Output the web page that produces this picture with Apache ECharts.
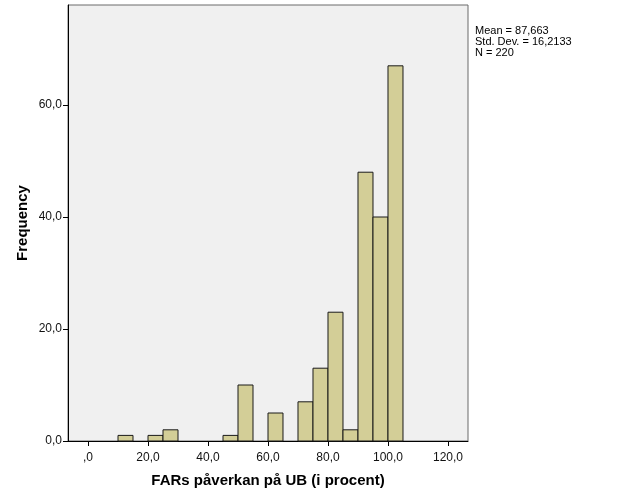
<!DOCTYPE html>
<html><head><meta charset="utf-8">
<script src="https://cdn.jsdelivr.net/npm/echarts@6/dist/echarts.min.js"></script>
<style>html,body{margin:0;padding:0;background:#fff}#c{width:626px;height:501px}</style>
</head><body><div id="c"></div>
<script>
const binStarts = [10, 20, 25, 45, 50, 60, 70, 75, 80, 85, 90, 95, 100];
const binWidth = 5;
const counts = [1, 1, 2, 1, 10, 5, 7, 13, 23, 2, 48, 40, 67];
const xTickValues = [0, 20, 40, 60, 80, 100, 120];
const xTickLabels = [',0', '20,0', '40,0', '60,0', '80,0', '100,0', '120,0'];
const yTickValues = [0, 20, 40, 60];
const yTickLabels = ['0,0', '20,0', '40,0', '60,0'];
const statsLines = ['Mean = 87,663', 'Std. Dev. = 16,2133', 'N = 220'];
const xTitle = 'FARs påverkan på UB (i procent)';
const yTitle = 'Frequency';

const chart = echarts.init(document.getElementById('c'), null, {renderer: 'canvas'});
const font = 'Liberation Sans, Arial, sans-serif';
chart.setOption({
  animation: false,
  textStyle: {fontFamily: font},
  grid: {left: 68, top: 5, right: 158, bottom: 60, show: true, backgroundColor: '#f0f0f0', borderColor: '#6a6a6a', borderWidth: 1},
  graphic: [{
    type: 'text', left: 475, top: 25,
    style: {text: statsLines.join('\n'), font: '11px ' + font, fill: '#000', lineHeight: 11}
  }],
  xAxis: {
    type: 'value', min: -6.667, max: 126.667,
    name: xTitle, nameLocation: 'middle', nameGap: 32, nameMoveOverlap: false,
    nameTextStyle: {fontFamily: font, fontWeight: 'bold', fontSize: 15, color: '#000'},
    axisLine: {show: true, onZero: false, lineStyle: {color: '#000', width: 1}},
    axisTick: {show: true, length: 5, customValues: xTickValues, lineStyle: {color: '#000'}},
    axisLabel: {customValues: xTickValues, margin: 11, fontSize: 12, color: '#111', fontFamily: font,
      formatter: v => xTickLabels[xTickValues.indexOf(v)] || ''},
    splitLine: {show: false}
  },
  yAxis: {
    type: 'value', min: 0, max: 77.86,
    name: yTitle, nameLocation: 'middle', nameGap: 38, nameMoveOverlap: false,
    nameTextStyle: {fontFamily: font, fontWeight: 'bold', fontSize: 15, color: '#000'},
    axisLine: {show: true, onZero: false, lineStyle: {color: '#000', width: 1}},
    axisTick: {show: true, length: 5, customValues: yTickValues, lineStyle: {color: '#000'}},
    axisLabel: {customValues: yTickValues, margin: 6, fontSize: 12, color: '#111', fontFamily: font,
      formatter: v => yTickLabels[yTickValues.indexOf(v)] || ''},
    splitLine: {show: false}
  },
  series: [{
    type: 'custom',
    data: binStarts.map((s, i) => [s, s + binWidth, counts[i]]),
    renderItem: function (params, api) {
      const p0 = api.coord([api.value(0), api.value(2)]);
      const p1 = api.coord([api.value(1), 0]);
      return {
        type: 'rect',
        shape: {x: p0[0], y: p0[1], width: p1[0] - p0[0], height: p1[1] - p0[1]},
        style: {fill: '#d3ce97', stroke: '#1a1a1a', lineWidth: 1}
      };
    }
  }]
});
</script></body></html>
